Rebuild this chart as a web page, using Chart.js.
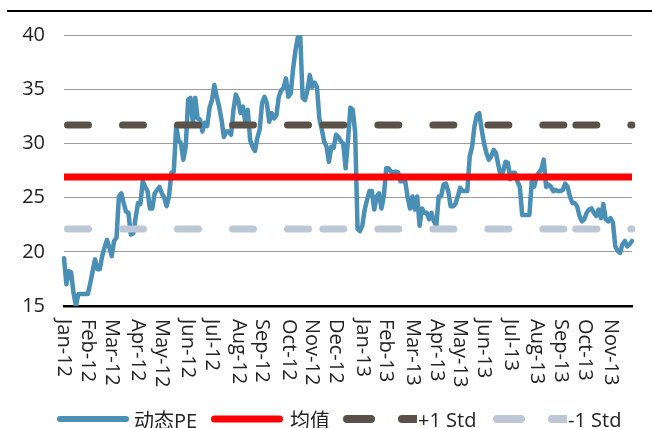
<!DOCTYPE html>
<html>
<head>
<meta charset="utf-8">
<script src="https://cdn.jsdelivr.net/npm/chart.js@4/dist/chart.umd.min.js"></script>
<style>
  html, body { margin: 0; padding: 0; background: #fff; }
  #wrap { position: relative; width: 652px; height: 428px; overflow: hidden; }
  #topRule { position: absolute; left: 7px; right: 0; top: 10px; height: 2px; background: #000; }
  .lg { position: absolute; top: 407px; height: 24px; display: flex; align-items: center;
        font: 20px "Open Sans", "Noto Sans CJK SC", sans-serif; color: #222; white-space: nowrap; }
  .lg svg { display: block; }
</style>
</head>
<body>
<div id="wrap">
  <canvas id="pe" width="652" height="428"></canvas>
  <div id="topRule"></div>
</div>
<script>
// PE series (one point every ~2 trading days, Jan-12 .. Nov-13)
var pe = [
  19.4, 17.0, 18.2, 18.1, 16.2, 15.0, 16.1, 16.1, 16.1, 16.1,
  16.1, 17.1, 18.2, 19.3, 18.4, 18.4, 19.6, 20.4, 21.1, 20.4,
  19.6, 21.0, 21.3, 25.1, 25.4, 24.5, 23.7, 23.6, 21.6, 21.7,
  23.1, 24.5, 24.4, 26.5, 26.0, 25.6, 24.0, 24.0, 25.4, 25.7,
  26.0, 25.4, 25.0, 24.2, 25.1, 27.3, 27.4, 31.6, 30.3, 30.0,
  28.5, 29.7, 34.0, 34.2, 31.9, 34.2, 32.3, 32.2, 31.1, 31.9,
  31.6, 33.3, 34.0, 35.4, 34.3, 33.4, 32.2, 30.6, 31.1, 31.1,
  30.8, 33.1, 34.5, 34.0, 32.8, 33.4, 31.9, 33.1, 30.3, 29.7,
  29.3, 30.5, 31.3, 33.7, 34.3, 33.7, 32.0, 32.8, 32.3, 32.6,
  34.3, 34.9, 35.1, 36.0, 34.3, 34.6, 36.9, 38.6, 39.8, 39.8,
  34.2, 34.0, 34.9, 36.3, 35.2, 35.6, 35.2, 32.3, 31.3, 30.2,
  29.7,
  28.3, 29.7, 29.6, 30.8, 30.6, 30.2, 30.0, 27.7, 30.3, 33.3,
  33.1, 31.0, 22.1, 21.9, 22.4, 23.9, 24.8, 25.6, 25.6, 23.9,
  25.1, 25.4, 24.0, 25.1, 27.7, 27.7, 27.4, 27.3, 27.4, 27.3,
  26.5, 26.5, 26.5, 25.0, 24.0, 25.1, 23.9, 25.1, 22.4, 24.0,
  23.6, 23.6, 23.0, 23.6, 22.8, 22.4, 25.1, 25.1, 26.2, 26.3,
  25.6, 24.2, 24.2, 24.4, 25.1, 25.9, 25.6, 25.6, 25.6, 28.8,
  29.7, 31.6, 32.6, 32.8, 31.3, 30.0, 29.1, 28.5, 28.8, 29.4,
  29.1, 28.0, 27.0, 27.4, 28.3, 28.2, 26.7, 27.3, 27.3, 26.5,
  26.0, 23.4, 23.4, 23.4, 23.4, 26.5, 26.0, 27.0, 27.3, 27.6,
  28.5, 26.0, 26.2, 26.0, 25.6, 25.7, 25.6, 25.6, 25.7, 26.3,
  26.0, 25.1, 24.5, 24.5, 24.2, 23.3, 22.8, 23.0, 23.6, 23.9,
  24.0, 23.6, 23.3, 23.9, 23.1, 24.4, 23.0, 22.8, 23.1, 22.7,
  20.5, 20.1, 19.9, 20.7, 21.0, 20.5, 20.7, 21.0
];
var peMean = 26.9;
var peUpper = 31.7;   // +1 Std
var peLower = 22.1;   // -1 Std
var stdGaps = [106, 212];   // missing points in the std series

var monthNames = ['Jan-12', 'Feb-12', 'Mar-12', 'Apr-12', 'May-12', 'Jun-12', 'Jul-12', 'Aug-12',
  'Sep-12', 'Oct-12', 'Nov-12', 'Dec-12', 'Jan-13', 'Feb-13', 'Mar-13', 'Apr-13', 'May-13',
  'Jun-13', 'Jul-13', 'Aug-13', 'Sep-13', 'Oct-13', 'Nov-13'];
var monthIdx = [0, 10, 20, 31, 41, 52, 62, 73, 83, 94, 104, 114, 125, 135, 146, 156, 166, 176,
  187, 198, 208, 218, 229];
var yTicks = [15, 20, 25, 30, 35, 40];
var seriesNames = ['动态PE', '均值', '+1 Std', '-1 Std'];

var FONT = '"Open Sans", "Noto Sans CJK SC", sans-serif';
var BLUE = '#4a8fb6', RED = '#ff0000', DARK = '#5a5148', LIGHT = '#bdc7d6';

function flat(v, gaps) {
    return pe.map(function(_, i) { return gaps.indexOf(i) >= 0 ? null : v; });
}

// month labels read top-to-bottom (rotated clockwise), so draw them ourselves
var monthLabels = {
    id: 'monthLabels',
    afterDraw: function(chart) {
        var ctx = chart.ctx, xs = chart.scales.x, top = chart.chartArea.bottom + 13;
        ctx.save();
        ctx.font = '20px ' + FONT;
        ctx.fillStyle = '#222';
        ctx.textAlign = 'left';
        ctx.textBaseline = 'middle';
        for (var k = 0; k < monthNames.length; k++) {
            ctx.save();
            ctx.translate(xs.getPixelForValue(monthIdx[k]), top);
            ctx.rotate(Math.PI / 2);
            ctx.fillText(monthNames[k], 0, 0);
            ctx.restore();
        }
        ctx.restore();
    }
};

var ctx = document.getElementById('pe').getContext('2d');
var myChart = new Chart(ctx, {
    type: 'line',
    data: {
        labels: pe.map(function(_, i) { return i; }),
        datasets: [{
            label: seriesNames[0],
            data: pe,
            borderColor: BLUE,
            borderWidth: 4.5,
            order: 3
        }, {
            label: seriesNames[1],
            data: flat(peMean, []),
            borderColor: RED,
            borderWidth: 7,
            borderCapStyle: 'butt',
            order: 2
        }, {
            label: seriesNames[2],
            data: flat(peUpper, stdGaps),
            borderColor: DARK,
            borderWidth: 7,
            borderDash: [21, 34],
            borderDashOffset: -3.5,
            order: 1
        }, {
            label: seriesNames[3],
            data: flat(peLower, stdGaps),
            borderColor: LIGHT,
            borderWidth: 7,
            borderDash: [21, 34],
            borderDashOffset: -3.5,
            order: 0
        }]
    },
    options: {
        responsive: false,
        animation: false,
        devicePixelRatio: 1,
        layout: { padding: { top: 35, right: 20, bottom: 122, left: 0 } },
        elements: {
            point: { radius: 0 },
            line: { tension: 0, borderCapStyle: 'round', borderJoinStyle: 'round', fill: false }
        },
        plugins: { legend: { display: false }, tooltip: { enabled: false } },
        scales: {
            x: {
                ticks: { display: false },
                grid: { display: false, drawTicks: false },
                border: { display: true, color: '#000', width: 2.5 },
                afterFit: function(s) { s.height = 0; }
            },
            y: {
                min: yTicks[0],
                max: yTicks[yTicks.length - 1],
                afterBuildTicks: function(s) { s.ticks = yTicks.map(function(v) { return { value: v }; }); },
                ticks: { color: '#222', padding: 19, font: { family: FONT, size: 20 } },
                grid: { color: '#9c9c9c', lineWidth: 1, drawTicks: false },
                border: { display: false },
                afterFit: function(s) { s.width = 64; }
            }
        }
    },
    plugins: [monthLabels]
});

// legend under the chart, as in the original
var legendLeft = [57, 211, 343, 493];
var legendGap = [5, 7, 1, 1];
var legendLine = [
    { c: BLUE, w: 6, dash: null, len: 72 },
    { c: RED, w: 7, dash: null, len: 72 },
    { c: DARK, w: 8, dash: '24 31', len: 74 },
    { c: LIGHT, w: 8, dash: '24 31', len: 74 }
];
var wrap = document.getElementById('wrap');
seriesNames.forEach(function(name, i) {
    var L = legendLine[i];
    var div = document.createElement('div');
    div.className = 'lg';
    div.style.left = legendLeft[i] + 'px';
    var svg = '<svg width="' + L.len + '" height="12"><line x1="' + (L.w / 2) + '" y1="6" x2="' +
        (L.dash ? L.len : L.len - L.w / 2) + '" y2="6" stroke="' + L.c + '" stroke-width="' + L.w +
        '" stroke-linecap="round"' + (L.dash ? ' stroke-dasharray="' + L.dash + '"' : '') + '/></svg>';
    div.innerHTML = svg + '<span style="margin-left:' + legendGap[i] + 'px">' + name + '</span>';
    wrap.appendChild(div);
});
</script>
</body>
</html>
